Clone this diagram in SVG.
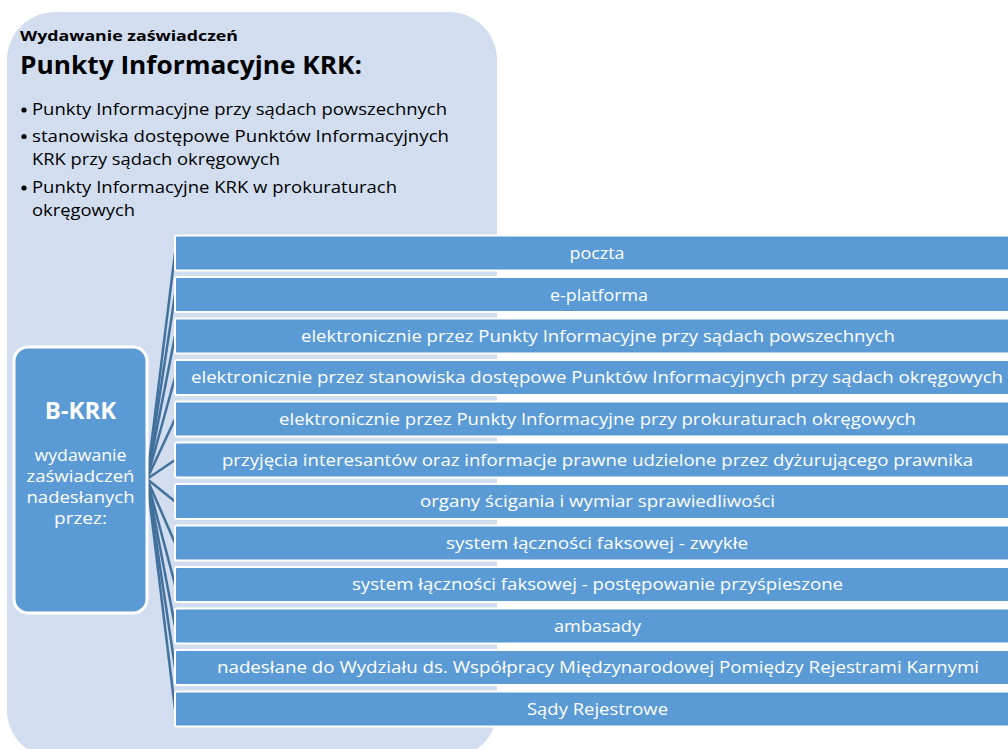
<svg xmlns="http://www.w3.org/2000/svg" width="1008" height="749" viewBox="0 0 1008 749">
<style>
.bg{fill:#D2DEEF}
.bar{fill:#5B9BD5;stroke:#FFFFFF;stroke-width:2}
.node{fill:#5B9BD5;stroke:#FFFFFF;stroke-width:3}
.bt{font-family:"Open Sans","DejaVu Sans",sans-serif;font-size:16px;fill:#FFFFFF;text-anchor:middle}
.nt{font-family:"Open Sans","DejaVu Sans",sans-serif;font-size:17px;fill:#FFFFFF;text-anchor:middle}
.hd{font-family:"Open Sans","DejaVu Sans",sans-serif;fill:#000000}
.li{font-family:"Open Sans","DejaVu Sans",sans-serif;font-size:16px;fill:#000000}
.conn line{stroke:#41719C;stroke-width:2.5}
</style>
<rect class="bg" x="7" y="12" width="490" height="746" rx="48"/>
<g id="header">
<text class="hd" x="20" y="41" font-size="15" font-weight="bold" textLength="218" lengthAdjust="spacingAndGlyphs">Wydawanie zaświadczeń</text>
<text class="hd" x="20" y="74" font-size="25" font-weight="bold" textLength="342" lengthAdjust="spacingAndGlyphs">Punkty Informacyjne KRK:</text>
<circle cx="24" cy="110" r="2.6" fill="#000"/>
<circle cx="24" cy="136.5" r="2.6" fill="#000"/>
<circle cx="24" cy="188" r="2.6" fill="#000"/>
<text class="li" x="32" y="115" textLength="415" lengthAdjust="spacingAndGlyphs">Punkty Informacyjne przy sądach powszechnych</text>
<text class="li" x="32" y="141.5" textLength="417" lengthAdjust="spacingAndGlyphs">stanowiska dostępowe Punktów Informacyjnych</text>
<text class="li" x="32" y="165" textLength="248" lengthAdjust="spacingAndGlyphs">KRK przy sądach okręgowych</text>
<text class="li" x="32" y="193" textLength="365" lengthAdjust="spacingAndGlyphs">Punkty Informacyjne KRK w prokuraturach</text>
<text class="li" x="32" y="216" textLength="103" lengthAdjust="spacingAndGlyphs">okręgowych</text>
</g>
<g id="connectors" class="conn">
<line x1="147" y1="479" x2="175" y2="253"/>
<line x1="147" y1="479" x2="175" y2="294.5"/>
<line x1="147" y1="479" x2="175" y2="336"/>
<line x1="147" y1="479" x2="175" y2="377.5"/>
<line x1="147" y1="479" x2="175" y2="419"/>
<line x1="147" y1="479" x2="175" y2="460"/>
<line x1="147" y1="479" x2="175" y2="501.5"/>
<line x1="147" y1="479" x2="175" y2="543"/>
<line x1="147" y1="479" x2="175" y2="584.5"/>
<line x1="147" y1="479" x2="175" y2="626"/>
<line x1="147" y1="479" x2="175" y2="667.5"/>
<line x1="147" y1="479" x2="175" y2="709"/>
</g>
<g id="node-bkrk">
<rect class="node" x="14" y="347" width="133" height="266" rx="14"/>
<text x="80.5" y="418.5" font-family="'Open Sans','DejaVu Sans',sans-serif" font-size="24" font-weight="bold" fill="#FFFFFF" text-anchor="middle">B-KRK</text>
<text class="nt" x="80.5" y="461" textLength="92" lengthAdjust="spacingAndGlyphs">wydawanie</text>
<text class="nt" x="80.5" y="482" textLength="108" lengthAdjust="spacingAndGlyphs">zaświadczeń</text>
<text class="nt" x="80.5" y="503" textLength="108" lengthAdjust="spacingAndGlyphs">nadesłanych</text>
<text class="nt" x="80.5" y="524" textLength="53" lengthAdjust="spacingAndGlyphs">przez:</text>
</g>
<g id="bar1"><rect class="bar" x="175" y="235.5" width="850" height="35" rx="2"/><text class="bt" x="597" y="259" textLength="55" lengthAdjust="spacingAndGlyphs">poczta</text></g>
<g id="bar2"><rect class="bar" x="175" y="277" width="850" height="35" rx="2"/><text class="bt" x="599" y="300.5" textLength="98" lengthAdjust="spacingAndGlyphs">e-platforma</text></g>
<g id="bar3"><rect class="bar" x="175" y="318.5" width="850" height="35" rx="2"/><text class="bt" x="598" y="341.5" textLength="594" lengthAdjust="spacingAndGlyphs">elektronicznie przez Punkty Informacyjne przy sądach powszechnych</text></g>
<g id="bar4"><rect class="bar" x="175" y="360" width="850" height="35" rx="2"/><text class="bt" x="597" y="383" textLength="812" lengthAdjust="spacingAndGlyphs">elektronicznie przez stanowiska dostępowe Punktów Informacyjnych przy sądach okręgowych</text></g>
<g id="bar5"><rect class="bar" x="175" y="401.5" width="850" height="35" rx="2"/><text class="bt" x="597.5" y="424.5" textLength="637" lengthAdjust="spacingAndGlyphs">elektronicznie przez Punkty Informacyjne przy prokuraturach okręgowych</text></g>
<g id="bar6"><rect class="bar" x="175" y="442.5" width="850" height="35" rx="2"/><text class="bt" x="597.5" y="465.5" textLength="751" lengthAdjust="spacingAndGlyphs">przyjęcia interesantów oraz informacje prawne udzielone przez dyżurującego prawnika</text></g>
<g id="bar7"><rect class="bar" x="175" y="484" width="850" height="35" rx="2"/><text class="bt" x="597.5" y="507" textLength="355" lengthAdjust="spacingAndGlyphs">organy ścigania i wymiar sprawiedliwości</text></g>
<g id="bar8"><rect class="bar" x="175" y="525.5" width="850" height="35" rx="2"/><text class="bt" x="597" y="548.5" textLength="302" lengthAdjust="spacingAndGlyphs">system łączności faksowej - zwykłe</text></g>
<g id="bar9"><rect class="bar" x="175" y="567" width="850" height="35" rx="2"/><text class="bt" x="597.5" y="590" textLength="491" lengthAdjust="spacingAndGlyphs">system łączności faksowej - postępowanie przyśpieszone</text></g>
<g id="bar10"><rect class="bar" x="175" y="608.5" width="850" height="35" rx="2"/><text class="bt" x="597.5" y="631.5" textLength="87" lengthAdjust="spacingAndGlyphs">ambasady</text></g>
<g id="bar11"><rect class="bar" x="175" y="650" width="850" height="35" rx="2"/><text class="bt" x="598" y="673" textLength="762" lengthAdjust="spacingAndGlyphs">nadesłane do Wydziału ds. Współpracy Międzynarodowej Pomiędzy Rejestrami Karnymi</text></g>
<g id="bar12"><rect class="bar" x="175" y="691.5" width="850" height="35" rx="2"/><text class="bt" x="597.5" y="714.5" textLength="141" lengthAdjust="spacingAndGlyphs">Sądy Rejestrowe</text></g>
</svg>
